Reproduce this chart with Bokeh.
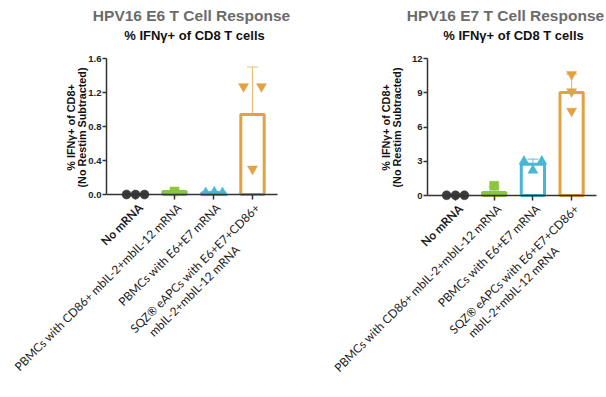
import math
from bokeh.plotting import figure
from bokeh.models import Label, Whisker, ColumnDataSource, FixedTicker, TeeHead, NumeralTickFormatter, Range1d
from bokeh.layouts import row
from bokeh.embed import file_html
from bokeh.resources import INLINE

# ---------------- data ----------------
categories = ["No mRNA",
              "PBMCs with CD86+ mbIL-2+mbIL-12 mRNA",
              "PBMCs with E6+E7 mRNA",
              "SQZ\u00ae eAPCs with E6+E7+CD86+",
              ]
category_line2 = ["", "", "", "mbIL-2+mbIL-12 mRNA"]

e6_title = "HPV16 E6 T Cell Response"
e7_title = "HPV16 E7 T Cell Response"
subtitle = "% IFN\u03b3+ of CD8 T cells"
ylabel1 = "% IFN\u03b3+ of CD8+"
ylabel2 = "(No Restim Subtracted)"

e6_mean = [0.0, 0.035, 0.02, 0.94]
e6_sd = [0.0, 0.0, 0.01, 0.56]
e6_points = [[0.0, 0.0, 0.0], [0.035], [0.02, 0.03, 0.02], [1.27, 0.30, 1.27]]
e6_ticks = [0.0, 0.4, 0.8, 1.2, 1.6]

e7_mean = [0.02, 0.26, 2.73, 9.03]
e7_sd = [0.0, 0.52, 0.46, 1.6]
e7_points = [[0.02, 0.02, 0.02], [0.85], [3.0, 2.2, 3.0], [10.6, 9.1, 7.4]]
e7_ticks = [0, 3, 6, 9, 12]

# ---------------- style ----------------
colors = ["#3b3b3b", "#8cc63e", "#49b6d6", "#e2a240"]
markers = ["circle", "square", "triangle", "inverted_triangle"]
e6_jitter = [[-0.23, 0, 0.23], [0], [-0.2, 0.02, 0.23], [-0.23, 0, 0.23]]
e7_jitter = [[-0.23, 0, 0.23], [0], [-0.23, 0, 0.23], [0, 0, 0]]

FONT = "Liberation Sans"
XFONT = "Lato"
W, H = 303, 397


def build(title, means, sds, points, jitter, ticks, ymax, fmt, page_left,
          axis_px, axis_end_px, cat0_px, step_px, zero_py, top_py, title_px, sub_px, ylab_px):
    unit_px = (zero_py - top_py) / ymax
    x0 = (page_left - cat0_px) / step_px
    x1 = (page_left + W - cat0_px) / step_px
    y1 = zero_py / unit_px
    y0 = -(H - zero_py) / unit_px

    def xd(page_x):
        return (page_x - cat0_px) / step_px

    p = figure(width=W, height=H, output_backend="svg", toolbar_location=None,
               x_range=Range1d(x0, x1), y_range=Range1d(y0, y1),
               min_border=0, min_border_left=0, min_border_right=0,
               min_border_top=0, min_border_bottom=0)
    p.outline_line_color = None
    p.xgrid.visible = False
    p.ygrid.visible = False
    p.background_fill_color = "white"

    ya = p.yaxis[0]
    ya.ticker = FixedTicker(ticks=ticks)
    ya.formatter = NumeralTickFormatter(format=fmt)
    ya.bounds = (0, ymax)
    ya.fixed_location = xd(axis_px)
    xa = p.xaxis[0]
    xa.ticker = FixedTicker(ticks=[0, 1, 2, 3])
    xa.fixed_location = 0
    xa.bounds = (xd(axis_px), xd(axis_end_px))
    xa.major_label_overrides = {0: "", 1: "", 2: "", 3: ""}
    for ax in (xa, ya):
        ax.axis_line_color = "#333333"
        ax.axis_line_width = 1.5
        ax.major_tick_line_color = "#333333"
        ax.major_tick_line_width = 1.5
        ax.major_tick_in = 0
        ax.major_tick_out = 4
        ax.minor_tick_line_color = None
        ax.major_label_text_font = FONT
        ax.major_label_text_font_style = "bold"
        ax.major_label_text_font_size = "9.5px"
        ax.major_label_text_color = "#222222"
        ax.major_label_standoff = 1
    xa.major_tick_out = 5

    xs = list(range(len(means)))
    p.vbar(x=xs, top=means, bottom=0, width=0.6, fill_color="white",
           line_color=colors, line_width=3)
    src = ColumnDataSource(dict(x=xs,
                                upper=[m + s for m, s in zip(means, sds)],
                                lower=[max(m - s, 0) for m, s in zip(means, sds)],
                                color=colors))
    w = Whisker(source=src, base="x", upper="upper", lower="lower", dimension="height",
                line_color="color", line_width=1.2, line_alpha=0.7,
                upper_head=TeeHead(size=11, line_color="color", line_width=1.2, line_alpha=0.7),
                lower_head=TeeHead(size=11, line_color="color", line_width=1.2, line_alpha=0.7))
    p.add_layout(w)
    for i, (vals, jit) in enumerate(zip(points, jitter)):
        px = [i + j for j in jit]
        size = 9 if markers[i] in ("circle", "square") else 10
        p.scatter(x=px, y=vals, marker=markers[i], size=size, fill_color=colors[i],
                  line_color=colors[i], line_width=0.5)

    p.add_layout(Label(x=xd(title_px), y=0, y_offset=zero_py - 15, text=title,
                       text_align="center", text_baseline="middle", text_font=FONT,
                       text_font_style="bold", text_font_size="15.5px", text_color="#6b6b6b"))
    p.add_layout(Label(x=xd(sub_px), y=0, y_offset=zero_py - 35, text=subtitle,
                       text_align="center", text_baseline="middle", text_font=FONT,
                       text_font_style="bold", text_font_size="13px", text_color="#111111"))
    for txt, lx in zip((ylabel1, ylabel2), ylab_px):
        p.add_layout(Label(x=xd(lx), y=0, y_offset=zero_py - 127, text=txt, angle=math.pi / 2,
                           text_align="center", text_baseline="middle", text_font=FONT,
                           text_font_style="bold", text_font_size="10.8px", text_color="#111111"))
    for i, (c1, c2) in enumerate(zip(categories, category_line2)):
        p.add_layout(Label(x=i, y=0, x_offset=5, y_offset=-11, text=c1, angle=math.pi / 4,
                           text_align="right", text_baseline="middle", text_font=XFONT,
                           text_font_style="bold" if i == 0 else "normal",
                           text_font_size="11.8px", text_color="#1a1a1a"))
        if c2:
            p.add_layout(Label(x=i, y=0, x_offset=5 - 20, y_offset=-11 - 42, text=c2,
                               angle=math.pi / 4, text_align="right", text_baseline="middle",
                               text_font=XFONT, text_font_size="11.8px", text_color="#1a1a1a"))
    return p


p1 = build(e6_title, e6_mean, e6_sd, e6_points, e6_jitter, e6_ticks, 1.6, "0.0", 0,
           106, 277, 135, 39.0, 194, 58, 191, 194, (70, 81))
p2 = build(e7_title, e7_mean, e7_sd, e7_points, e7_jitter, e7_ticks, 12, "0", 303,
           427, 596, 455, 38.7, 195, 58, 505, 513, (385, 396))

layout = row(p1, p2)
open("out.html", "w").write(file_html(layout, INLINE))
